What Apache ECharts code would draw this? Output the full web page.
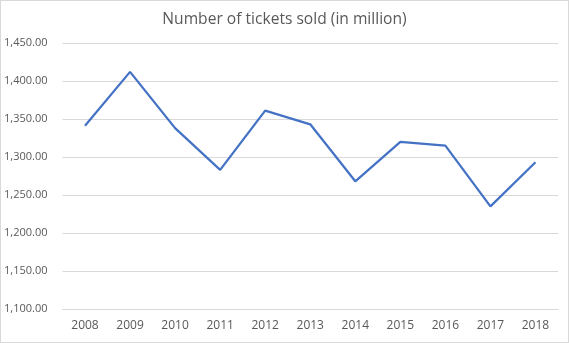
<!DOCTYPE html>
<html>
<head>
<meta charset="utf-8">
<script src="https://cdn.jsdelivr.net/npm/echarts@6/dist/echarts.min.js"></script>
<style>
html,body{margin:0;padding:0;background:#fff;}
#chart{width:569px;height:343px;box-sizing:border-box;border:1px solid #d9d9d9;}
</style>
</head>
<body>
<div id="chart"></div>
<script>
var titleText = 'Number of tickets sold (in million)';
var years = ['2008','2009','2010','2011','2012','2013','2014','2015','2016','2017','2018'];
var tickets = [1341, 1412, 1338, 1283, 1361, 1343, 1268, 1320, 1315, 1235, 1293];
var yMin = 1100, yMax = 1450, yStep = 50;

function fmt(v){
  return v.toLocaleString('en-US',{minimumFractionDigits:2,maximumFractionDigits:2});
}

var chart = echarts.init(document.getElementById('chart'), null, {renderer:'canvas'});
chart.setOption({
  animation:false,
  backgroundColor:'#fff',
  title:{
    text:titleText,
    left:'center',
    top:6,
    textStyle:{fontFamily:'Open Sans',fontSize:15.6,fontWeight:'normal',color:'#595959'}
  },
  grid:{left:60,right:10,top:42,bottom:33,containLabel:false},
  xAxis:{
    type:'category',
    data:years,
    boundaryGap:true,
    axisLine:{show:true,lineStyle:{color:'#d9d9d9',width:1}},
    axisTick:{show:false},
    axisLabel:{color:'#595959',fontFamily:'Open Sans',fontSize:12,margin:11}
  },
  yAxis:{
    type:'value',
    min:yMin,max:yMax,interval:yStep,
    axisLine:{show:false},
    axisTick:{show:false},
    splitLine:{lineStyle:{color:'#d9d9d9',width:1}},
    axisLabel:{color:'#595959',fontFamily:'Open Sans',fontSize:11,margin:15,formatter:fmt}
  },
  series:[{
    type:'line',
    data:tickets,
    showSymbol:false,
    symbol:'none',
    lineStyle:{color:'#4472C4',width:2.25},
    itemStyle:{color:'#4472C4'}
  }]
});
</script>
</body>
</html>
